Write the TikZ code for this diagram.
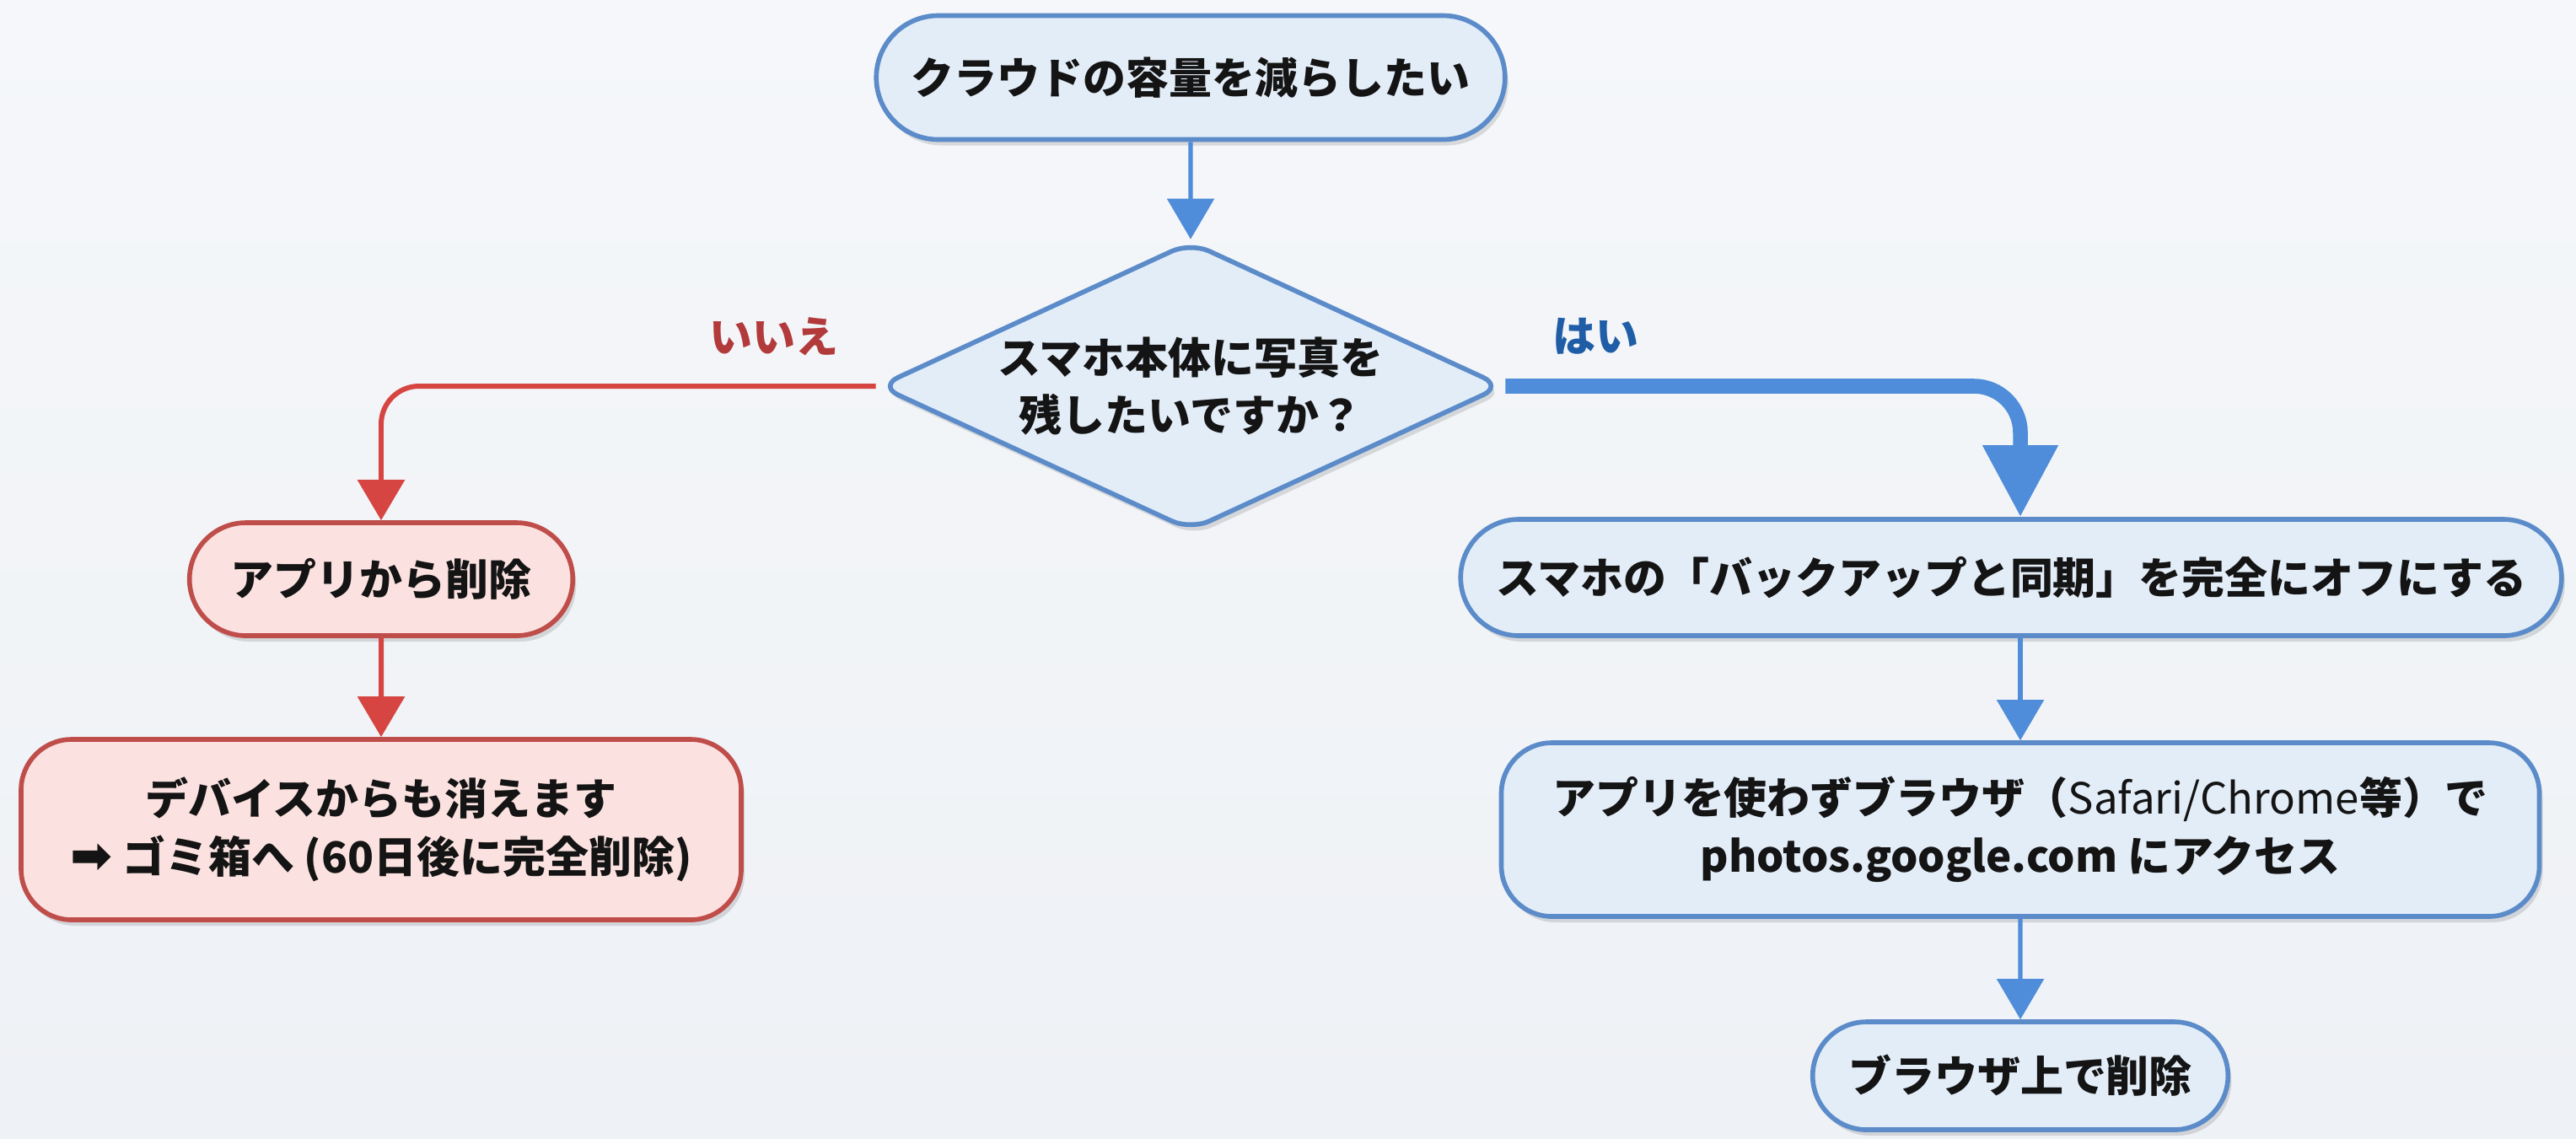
\documentclass[tikz,border=0pt]{standalone}
\usepackage{fontspec}
\setmainfont{Noto Sans CJK JP}
\newfontfamily\symfont{DejaVu Sans}
\usetikzlibrary{shapes.geometric,shapes.misc,arrows.meta,shadows}
\definecolor{bgtop}{HTML}{F5F7FA}
\definecolor{bgbot}{HTML}{EEF1F5}
\definecolor{boxblue}{HTML}{5B8BC9}
\definecolor{fillblue}{HTML}{E3EDF8}
\definecolor{arrowblue}{HTML}{4F8CD9}
\definecolor{boxred}{HTML}{BF4E4B}
\definecolor{fillred}{HTML}{FBE2E0}
\definecolor{arrowred}{HTML}{D64541}
\definecolor{yesblue}{HTML}{1F5DA6}
\definecolor{nored}{HTML}{B23A3A}
\begin{document}
\begin{tikzpicture}[
  every node/.style={font=\bfseries\fontsize{14.5}{19.5}\selectfont, text=black!92, align=center},
  softshadow/.style={drop shadow={shadow xshift=0.04cm, shadow yshift=-0.07cm, opacity=0.12, fill=black}},
  bluebox/.style={draw=boxblue, line width=1.6pt, fill=fillblue, softshadow},
  redbox/.style={draw=boxred, line width=1.6pt, fill=fillred, softshadow},
  bluearrow/.style={draw=arrowblue, line width=1.5pt, -{Triangle[width=0.55cm,length=0.48cm]}},
  redarrow/.style={draw=arrowred, line width=1.7pt, -{Triangle[width=0.55cm,length=0.48cm]}},
  thickblue/.style={draw=arrowblue, line width=5pt, -{Triangle[width=0.85cm,length=0.85cm]}},
  yeslabel/.style={text=yesblue},
  nolabel/.style={text=nored}
]
\useasboundingbox (0,0) rectangle (30.55,-13.5);
\fill[top color=bgtop, bottom color=bgbot] (0,0) rectangle (30.55,-13.5);

\node[bluebox, rounded rectangle, minimum width=7.69cm, minimum height=1.47cm] (start) at (14.12,-0.92) {クラウドの容量を減らしたい};
\node[bluebox, diamond, shape aspect=2.16, rounded corners=7pt, inner sep=0pt, minimum width=7.41cm, minimum height=3.43cm] (q) at (14.12,-4.58) {スマホ本体に写真を\\残したいですか？};

\node[redbox, rounded rectangle, minimum width=4.78cm, minimum height=1.34cm] (r1) at (4.52,-6.87) {アプリから削除};
\node[redbox, rounded corners=0.6cm, minimum width=8.54cm, minimum height=2.14cm] (r2) at (4.52,-9.84) {デバイスからも消えます\\{\symfont\fontsize{17}{19.5}\selectfont ➡} ゴミ箱へ (60日後に完全削除)};

\node[bluebox, rounded rectangle, minimum width=13.29cm, minimum height=1.38cm] (b1) at (23.85,-6.85) {スマホの「バックアップと同期」を完全にオフにする};
\node[bluebox, rounded corners=0.6cm, minimum width=12.31cm, minimum height=2.06cm] (b2) at (23.96,-9.84) {アプリを使わずブラウザ（{\mdseries Safari/Chrome}等）で\\photos.google.com にアクセス};
\node[bluebox, rounded rectangle, minimum width=5.16cm, minimum height=1.28cm] (b3) at (23.96,-12.76) {ブラウザ上で削除};

\node[nolabel] (no) at (9.18,-3.99) {いいえ};
\node[yeslabel] (yes) at (18.92,-3.99) {はい};

\draw[bluearrow] (start) -- (q);
\draw[redarrow, rounded corners=0.45cm] (q.west) -| (r1.north);
\draw[redarrow] (r1) -- (r2);
\draw[thickblue, rounded corners=0.55cm] (q.east) -| (b2.north |- b1.north);
\draw[bluearrow] (b1.south -| b2.north) -- (b2.north);
\draw[bluearrow] (b2) -- (b3);
\end{tikzpicture}
\end{document}
